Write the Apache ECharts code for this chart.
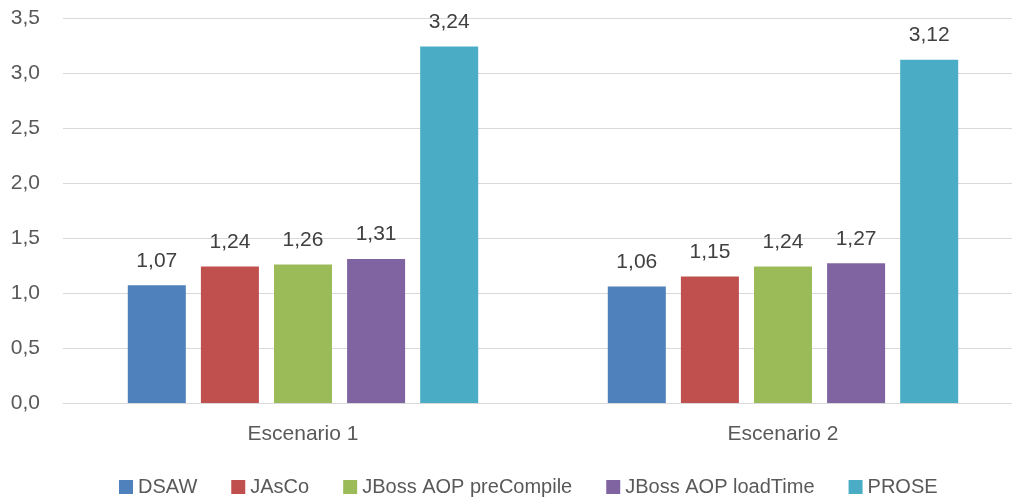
<!DOCTYPE html>
<html><head><meta charset="utf-8">
<script src="https://cdn.jsdelivr.net/npm/echarts@6/dist/echarts.min.js"></script>
<style>html,body{margin:0;padding:0;background:#fff;overflow:hidden;width:1012px;height:497px}#c{width:1024px;height:497px}</style>
</head><body><div id="c"></div>
<script>
const categories = ['Escenario 1', 'Escenario 2'];
const seriesNames = ['DSAW', 'JAsCo', 'JBoss AOP preCompile', 'JBoss AOP loadTime', 'PROSE'];
const dsaw = [1.07, 1.06];
const jasco = [1.24, 1.15];
const jbossPre = [1.26, 1.24];
const jbossLoad = [1.31, 1.27];
const prose = [3.24, 3.12];
const colors = ['#4F81BD', '#C0504D', '#9BBB59', '#8064A2', '#4BACC6'];
const values = [dsaw, jasco, jbossPre, jbossLoad, prose];
const fmt = v => v.toFixed(2).replace('.', ',');
const font = 'Liberation Sans, Arial, sans-serif';
const chart = echarts.init(document.getElementById('c'));
chart.setOption({
  animation: false,
  color: colors,
  grid: { left: 63, top: 18, right: 1, bottom: 94, containLabel: false },
  legend: {
    top: 477, left: 119, padding: 0, itemWidth: 14, itemHeight: 14, itemGap: 34,
    icon: 'rect',
    textStyle: { fontSize: 20, color: '#595959', fontFamily: font }
  },
  xAxis: {
    type: 'category', data: categories,
    axisLine: { lineStyle: { color: '#D9D9D9', width: 1 } },
    axisTick: { show: false },
    axisLabel: { fontSize: 21, color: '#595959', fontFamily: font, margin: 21 }
  },
  yAxis: {
    type: 'value', min: 0, max: 3.5, interval: 0.5,
    axisLine: { show: false }, axisTick: { show: false },
    splitLine: { lineStyle: { color: '#D9D9D9', width: 1 } },
    axisLabel: { fontSize: 21, color: '#595959', fontFamily: font, margin: 23,
      formatter: v => v.toFixed(1).replace('.', ',') }
  },
  series: seriesNames.map((n, i) => ({
    name: n, type: 'bar', data: values[i],
    barGap: '26%', barCategoryGap: '27%',
    itemStyle: { color: colors[i] },
    label: { show: true, position: 'top', distance: 14, fontSize: 21, color: '#404040', fontFamily: font,
      formatter: p => fmt(p.value) }
  }))
});
</script></body></html>
